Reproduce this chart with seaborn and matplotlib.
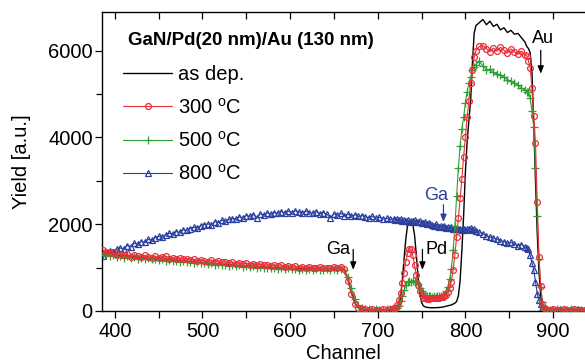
import matplotlib
matplotlib.use("Agg")
import matplotlib.pyplot as plt
import numpy as np
import pandas as pd
import seaborn as sns

# ---------------- data ----------------
channel = (list(range(386, 719, 4)) + list(range(720, 813, 2)) +
           list(range(816, 869, 4)) + list(range(870, 893, 2)) +
           list(range(896, 937, 4)))

as_dep = [
    1340, 1330, 1310, 1300, 1290, 1280, 1270, 1265, 1255, 1250, 1240, 1235, 1230, 1225, 1215, 1210,
    1200, 1195, 1190, 1185, 1175, 1170, 1160, 1155, 1150, 1140, 1135, 1125, 1120, 1115, 1105, 1100,
    1095, 1090, 1080, 1075, 1070, 1065, 1055, 1050, 1045, 1040, 1035, 1030, 1025, 1020, 1015, 1010,
    1005, 1000, 995, 995, 990, 985, 980, 980, 975, 975, 970, 970, 965, 965, 965, 960,
    960, 960, 965, 965, 960, 930, 720, 420, 180, 70, 30, 15, 10, 10, 10, 10, 10, 15, 20, 40,
    # 720..812 step 2
    80, 60, 120, 300, 700, 1200, 1650, 1980, 2060, 2060, 2000, 1750, 1300, 800, 400, 200,
    120, 95, 85, 80, 75, 75, 75, 75, 80, 80, 85, 90, 100, 110, 120, 130, 140, 160, 180,
    220, 350, 700, 1400, 2200, 3200, 3900, 4400, 4850, 5700, 6400, 6580,
    # 816..868 step 4
    6650, 6720, 6600, 6680, 6560, 6610, 6480, 6530, 6420, 6470, 6380, 6400, 6300, 6200,
    # 870..892 step 2
    6100, 6050, 5950, 5500, 4300, 3000, 1800, 900, 350, 120, 40, 20,
    # 896..936 step 4
    15, 15, 10, 15, 15, 10, 15, 15, 10, 15, 15,
]

t300 = [
    1410, 1360, 1330, 1350, 1300, 1320, 1280, 1310, 1250, 1290, 1270, 1240, 1280, 1250, 1230, 1260,
    1220, 1240, 1270, 1210, 1230, 1200, 1220, 1190, 1210, 1170, 1190, 1150, 1180, 1160, 1140, 1170,
    1130, 1150, 1120, 1140, 1100, 1120, 1090, 1110, 1080, 1100, 1070, 1090, 1060, 1080, 1050, 1070,
    1040, 1060, 1030, 1050, 1020, 1040, 1010, 1030, 1000, 1020, 990, 1010, 1000, 980, 1010, 990,
    1000, 980, 1010, 1000, 1020, 960, 700, 390, 170, 80, 45, 35, 30, 35, 30, 30, 35, 30, 40, 60,
    # 720..812
    80, 140, 250, 420, 640, 880, 1130, 1330, 1440, 1420, 1280, 1060, 820, 600, 450, 360,
    310, 290, 280, 280, 290, 300, 300, 310, 300, 310, 320, 330, 350, 380, 430, 520, 680,
    940, 1300, 1700, 2150, 2600, 3050, 3550, 4000, 4470, 4850, 5250, 5550, 5850, 6000,
    # 816..868
    6100, 6120, 6050, 5980, 6060, 5990, 6080, 6010, 5950, 6040, 5970, 5920, 5990, 5900,
    # 870..892
    5880, 5770, 5600, 5130, 4500, 3880, 2520, 1250, 570, 170, 60, 35,
    # 896..936
    30, 35, 30, 30, 35, 30, 30, 35, 30, 30, 30,
]

t500 = [
    1290, 1310, 1270, 1280, 1250, 1270, 1230, 1260, 1220, 1240, 1210, 1230, 1200, 1220, 1190, 1200,
    1170, 1190, 1160, 1180, 1150, 1160, 1130, 1150, 1120, 1140, 1110, 1120, 1100, 1110, 1080, 1100,
    1070, 1090, 1060, 1070, 1040, 1060, 1030, 1050, 1020, 1040, 1010, 1030, 1000, 1010, 990, 1000,
    980, 990, 970, 990, 960, 980, 960, 970, 950, 970, 950, 960, 940, 960, 950, 940,
    960, 950, 960, 950, 960, 940, 780, 520, 280, 130, 60, 40, 35, 30, 35, 30, 30, 35, 40, 50,
    # 720..812
    60, 80, 110, 220, 340, 480, 600, 660, 690, 680, 700, 690, 680, 620, 540, 470,
    420, 380, 350, 340, 340, 330, 340, 330, 340, 350, 340, 360, 380, 450, 560, 740, 960,
    1400, 1950, 2650, 3300, 3800, 4200, 4470, 4800, 5050, 5250, 5400, 5550, 5620, 5680,
    # 816..868
    5760, 5650, 5560, 5570, 5500, 5470, 5430, 5390, 5330, 5300, 5260, 5200, 5150, 5090,
    # 870..892
    5060, 5040, 4900, 4600, 4250, 3300, 2200, 1200, 550, 200, 70, 40,
    # 896..936
    30, 30, 35, 30, 30, 30, 35, 30, 30, 30, 30,
]

t800 = [
    1260, 1350, 1380, 1360, 1420, 1450, 1440, 1510, 1480, 1560, 1540, 1600, 1580, 1650, 1630, 1690,
    1720, 1700, 1760, 1790, 1770, 1830, 1810, 1870, 1860, 1900, 1930, 1910, 1970, 1990, 2010, 1980,
    2060, 2040, 2090, 2070, 2110, 2130, 2120, 2170, 2150, 2200, 2180, 2220, 2150, 2240, 2210, 2260,
    2230, 2270, 2250, 2290, 2260, 2300, 2270, 2310, 2280, 2260, 2300, 2270, 2250, 2290, 2240, 2270,
    2230, 2150, 2240, 2210, 2250, 2200, 2230, 2190, 2220, 2180, 2200, 2170, 2150, 2180, 2140, 2160,
    2120, 2140, 2110, 2130,
    # 720..812
    2100, 2120, 2090, 2110, 2080, 2100, 2070, 2090, 2060, 2080, 2070, 2090, 2060, 2050, 2070, 2040,
    2030, 2050, 2010, 2030, 2000, 1990, 1970, 2000, 1960, 1940, 1970, 1930, 1950, 1920, 1940, 1910,
    1930, 1900, 1920, 1890, 1880, 1900, 1870, 1890, 1860, 1880, 1900, 1920, 1870, 1890, 1850,
    # 816..868
    1820, 1780, 1740, 1700, 1690, 1650, 1620, 1600, 1560, 1580, 1540, 1510, 1530, 1480,
    # 870..892
    1450, 1420, 1280, 1100, 950, 680, 400, 250, 150, 80, 50, 35,
    # 896..936
    30, 30, 30, 35, 30, 30, 30, 30, 35, 30, 30,
]

labels = ["as dep.", "300 $^{\\mathregular{o}}$C", "500 $^{\\mathregular{o}}$C", "800 $^{\\mathregular{o}}$C"]
series = [as_dep, t300, t500, t800]

x_ticks = [400, 500, 600, 700, 800, 900]
y_ticks = [0, 2000, 4000, 6000]

for s in series:
    assert len(s) == len(channel), len(s)

df = pd.concat([pd.DataFrame({"Channel": channel, "Yield": s, "sample": lab})
                for s, lab in zip(series, labels)], ignore_index=True)

# ---------------- style ----------------
sns.set_style("ticks")
plt.rcParams["font.family"] = ["Liberation Sans", "DejaVu Sans"]
plt.rcParams["mathtext.fontset"] = "custom"
plt.rcParams["mathtext.rm"] = "Liberation Sans"
plt.rcParams["text.color"] = "black"
plt.rcParams["axes.labelcolor"] = "black"
plt.rcParams["xtick.color"] = "black"
plt.rcParams["ytick.color"] = "black"

RED = "#e8303a"
GREEN = "#2ea032"
BLUE = "#2a3f9f"

fig = plt.figure(figsize=(5.85, 3.63), dpi=100)
ax = fig.add_axes([101.7 / 585, 1 - 311 / 363, (585 - 101.7) / 585, (311 - 11.7) / 363])

styles = [
    dict(color="black", lw=1.0, zorder=1),
    dict(color=RED, lw=0.8, marker="o", markersize=4.2, markerfacecolor="none",
         markeredgecolor=RED, markeredgewidth=0.9, zorder=4),
    dict(color=GREEN, lw=0.8, marker="+", markersize=6, markerfacecolor=GREEN,
         markeredgecolor=GREEN, markeredgewidth=0.9, zorder=3),
    dict(color=BLUE, lw=0.8, marker="^", markersize=4.8, markerfacecolor="none",
         markeredgecolor=BLUE, markeredgewidth=0.9, zorder=2),
]
for lab, st in zip(labels, styles):
    sub = df[df["sample"] == lab]
    sns.lineplot(data=sub, x="Channel", y="Yield", ax=ax, label=lab,
                 errorbar=None, sort=True, **st)

ax.set_xlim(385, 936.5)
ax.set_ylim(0, 6900)
ax.set_xticks(x_ticks)
ax.set_yticks(y_ticks)
ax.set_xticks(list(range(450, 936, 100)), minor=True)
ax.set_yticks([1000, 3000, 5000], minor=True)
ax.tick_params(axis="both", which="both", direction="out", labelsize=14.5, width=0.9,
               colors="black", labelcolor="black")
ax.tick_params(axis="x", which="major", length=5, pad=3)
ax.tick_params(axis="x", which="minor", length=5)
ax.tick_params(axis="y", which="major", length=5, pad=1.5)
ax.tick_params(axis="y", which="minor", length=4.5)
ax.spines["right"].set_visible(False)
for sp in ["left", "bottom", "top"]:
    ax.spines[sp].set_linewidth(1.0)
    ax.spines[sp].set_color("black")

sec = ax.secondary_xaxis("top")
sec.set_xticks(list(range(400, 936, 50)))
sec.tick_params(axis="x", direction="in", length=5, width=0.9, labeltop=False, colors="black")
sec.spines["top"].set_visible(False)

ax.set_xlabel("Channel", fontsize=14.5, labelpad=2, color="black")
ax.set_ylabel("Yield [a.u.]", fontsize=14.5, labelpad=12, color="black")

# title + legend
fig.text(128 / 585, 1 - 45 / 363, "GaN/Pd(20 nm)/Au (130 nm)", fontsize=13.5,
         fontweight="bold", ha="left", va="baseline", color="black")
leg = ax.legend(loc="upper left", bbox_to_anchor=(115 / 585, 1 - 57 / 363),
                bbox_transform=fig.transFigure, frameon=False, fontsize=14.5,
                handlelength=2.45, handletextpad=0.3, labelspacing=0.66,
                borderaxespad=0, borderpad=0.4, numpoints=1)
for t in leg.get_texts():
    t.set_color("black")

# element annotations
arrow = dict(arrowstyle="-|>,head_length=0.45,head_width=0.18", color="black", lw=0.9,
             shrinkA=0, shrinkB=0)
arrow_b = dict(arrow, color=BLUE)
ax.text(888, 6180, "Au", fontsize=13, ha="center", va="baseline")
ax.annotate("", xy=(886, 5470), xytext=(886, 6010), arrowprops=arrow)
ax.text(655, 1305, "Ga", fontsize=13, ha="center", va="baseline")
ax.annotate("", xy=(672, 950), xytext=(672, 1420), arrowprops=arrow)
ax.text(767, 1305, "Pd", fontsize=13, ha="center", va="baseline")
ax.annotate("", xy=(751, 950), xytext=(751, 1420), arrowprops=arrow)
ax.text(767, 2565, "Ga", fontsize=13, ha="center", va="baseline", color=BLUE)
ax.annotate("", xy=(775, 2050), xytext=(775, 2450), arrowprops=arrow_b)

fig.savefig("out.png", dpi=100)
